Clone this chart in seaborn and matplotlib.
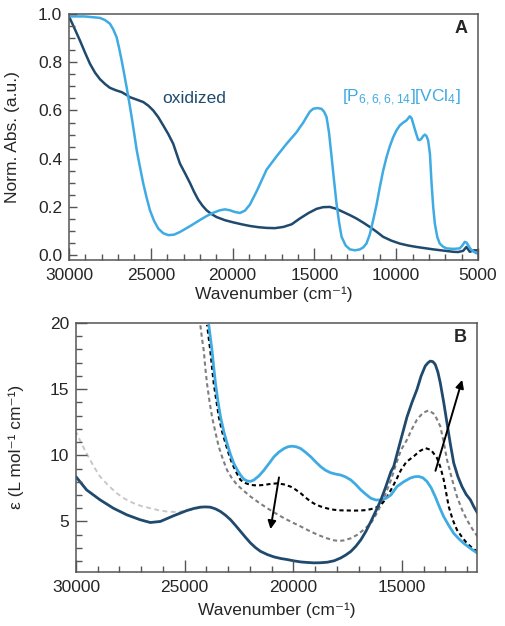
import numpy as np
import pandas as pd
import seaborn as sns
import matplotlib.pyplot as plt
from matplotlib.ticker import MultipleLocator, FormatStrFormatter

# ---- panel A data (normalised absorbance) ----
wn_ox_a = [30000, 29660, 29330, 29020, 28720, 28410, 28110, 27800, 27500, 27140,
           26780, 26520, 26270, 25860, 25460, 25150, 24850, 24540, 24240, 23930,
           23630, 23420, 23220, 22910, 22610, 22350, 22100, 21840, 21590, 21280,
           20980, 20470, 19960, 19450, 18940, 18430, 17920, 17410, 16900, 16390,
           15890, 15380, 14870, 14470, 14060, 13650, 13240, 12830, 12430, 12020,
           11610, 11200, 10800, 10290, 9780, 9270, 8760, 8250, 7740, 7130,
           6520, 6210, 5910, 5710, 5500, 5250, 5000]
abs_ox_a = [0.99, 0.94, 0.89, 0.84, 0.794, 0.757, 0.73, 0.71, 0.694, 0.684,
            0.676, 0.666, 0.655, 0.645, 0.635, 0.62, 0.60, 0.572, 0.538, 0.502,
            0.462, 0.42, 0.38, 0.34, 0.30, 0.262, 0.23, 0.205, 0.186, 0.17,
            0.158, 0.145, 0.136, 0.128, 0.121, 0.116, 0.113, 0.112, 0.117, 0.128,
            0.152, 0.174, 0.192, 0.199, 0.2, 0.192, 0.179, 0.166, 0.152, 0.135,
            0.117, 0.097, 0.076, 0.06, 0.048, 0.04, 0.034, 0.029, 0.024, 0.019,
            0.014, 0.013, 0.018, 0.034, 0.014, 0.02, 0.02]

wn_vcl_a = [30000, 29050, 28110, 27800, 27500, 27300, 27090, 26940, 26780, 26630,
            26480, 26320, 26170, 26010, 25860, 25660, 25460, 25250, 25050, 24800,
            24540, 24240, 23930, 23580, 23220, 22610, 21990, 21590, 21180, 20780,
            20470, 20160, 19860, 19550, 19240, 18940, 18530, 17920, 17310, 16700,
            16090, 15890, 15680, 15480, 15280, 15080, 14820, 14570, 14410, 14260,
            14110, 13950, 13800, 13650, 13490, 13340, 13090, 12830, 12520, 12220,
            12020, 11820, 11620, 11410, 11200, 11000, 10800, 10590, 10390, 10180,
            9980, 9780, 9570, 9370, 9170, 9060, 8960, 8810, 8660, 8560,
            8460, 8350, 8250, 8150, 8050, 7940, 7840, 7740, 7640, 7490,
            7340, 7130, 6930, 6520, 6120, 5960, 5810, 5700, 5600, 5500,
            5400, 5250, 5100, 5000]
abs_vcl_a = [0.99, 0.99, 0.984, 0.975, 0.96, 0.937, 0.904, 0.86, 0.807, 0.753,
             0.697, 0.635, 0.573, 0.503, 0.435, 0.365, 0.297, 0.237, 0.186, 0.142,
             0.11, 0.091, 0.083, 0.085, 0.096, 0.12, 0.146, 0.162, 0.176, 0.186,
             0.19, 0.186, 0.179, 0.175, 0.185, 0.21, 0.265, 0.355, 0.41, 0.462,
             0.51, 0.53, 0.55, 0.573, 0.595, 0.607, 0.61, 0.607, 0.595, 0.573,
             0.51, 0.407, 0.31, 0.214, 0.135, 0.076, 0.04, 0.024, 0.02, 0.024,
             0.032, 0.048, 0.085, 0.145, 0.21, 0.283, 0.35, 0.407, 0.452, 0.49,
             0.518, 0.538, 0.55, 0.559, 0.576, 0.568, 0.545, 0.51, 0.479, 0.477,
             0.483, 0.494, 0.5, 0.494, 0.476, 0.42, 0.297, 0.2, 0.131, 0.075,
             0.048, 0.035, 0.028, 0.026, 0.028, 0.04, 0.055, 0.052, 0.041, 0.03,
             0.021, 0.014, 0.008, 0.007]

# ---- panel B data (molar absorptivity) ----
wn_ox_b = [30000, 29510, 28890, 28280, 27660, 27050, 26580, 26120, 25510, 24890,
           24580, 24280, 24050, 23820, 23580, 23350, 23120, 22890, 22660, 22430,
           22200, 21970, 21740, 21510, 21200, 20890, 20580, 20280, 19970, 19660,
           19350, 19050, 18740, 18430, 18120, 17820, 17590, 17350, 17120, 16890,
           16660, 16430, 16200, 15970, 15740, 15510, 15380, 15050, 14770, 14540,
           14310, 14120, 13930, 13800, 13700, 13580, 13470, 13350, 13240, 13080,
           12930, 12780, 12620, 12430, 12240, 12050, 11850, 11690, 11520]
eps_ox_b = [8.38, 7.38, 6.63, 6.0, 5.5, 5.13, 4.92, 5.0, 5.43, 5.83,
            5.98, 6.08, 6.1, 6.08, 5.95, 5.75, 5.47, 5.13, 4.7, 4.25,
            3.8, 3.37, 3.02, 2.74, 2.5, 2.32, 2.2, 2.12, 2.02, 1.94,
            1.9, 1.87, 1.88, 1.92, 2.03, 2.24, 2.46, 2.74, 3.13, 3.62,
            4.25, 5.0, 5.8, 6.63, 7.65, 8.76, 9.16, 11.2, 12.9, 14.0,
            14.98, 16.0, 16.75, 17.0, 17.12, 17.08, 16.87, 16.3, 15.49, 14.0,
            12.45, 10.9, 9.42, 8.4, 7.64, 7.05, 6.63, 6.1, 5.62]

wn_ox_hi = [30000, 29750, 29510, 29200, 28890, 28500, 28120, 27740, 27350, 26970,
            26580, 26200, 25820, 25510, 25200, 24890, 24580, 24280]
eps_ox_hi = [11.77, 10.9, 10.14, 9.2, 8.38, 7.7, 7.13, 6.7, 6.38, 6.15,
             6.0, 5.85, 5.75, 5.72, 5.75, 5.82, 5.92, 6.05]

wn_vcl_b = [23890, 23810, 23740, 23660, 23580, 23470, 23350, 23200, 23050, 22900,
            22740, 22580, 22430, 22280, 22120, 21970, 21820, 21580, 21350, 21120,
            20890, 20660, 20430, 20240, 20050, 19860, 19660, 19430, 19200, 18970,
            18740, 18510, 18280, 18050, 17820, 17590, 17350, 17120, 16890, 16660,
            16430, 16200, 15970, 15740, 15510, 15230, 14920, 14620, 14420, 14230,
            14040, 13850, 13660, 13470, 13280, 13080, 12850, 12620, 12390, 12160,
            11840, 11520]
eps_vcl_b = [19.86, 18.8, 17.9, 16.6, 15.4, 14.1, 12.9, 11.8, 10.9, 10.1,
             9.39, 8.9, 8.5, 8.2, 8.06, 8.03, 8.13, 8.45, 8.88, 9.38,
             9.89, 10.25, 10.51, 10.65, 10.69, 10.64, 10.51, 10.22, 9.89, 9.5,
             9.14, 8.86, 8.68, 8.58, 8.51, 8.36, 8.13, 7.78, 7.38, 7.05,
             6.75, 6.62, 6.63, 6.75, 7.0, 7.64, 8.0, 8.28, 8.38, 8.4,
             8.3, 8.02, 7.55, 6.88, 6.1, 5.36, 4.7, 4.1, 3.7, 3.35,
             2.95, 2.59]

wn_mix1 = [23970, 23890, 23820, 23740, 23660, 23540, 23430, 23280, 23120, 22970,
           22820, 22620, 22430, 22200, 21970, 21660, 21350, 21040, 20740, 20430,
           20120, 19890, 19660, 19430, 19200, 18970, 18740, 18430, 18120, 17820,
           17510, 17200, 16890, 16660, 16430, 16200, 15970, 15740, 15510, 15280,
           15050, 14800, 14460, 14200, 13930, 13660, 13390, 13230, 13080, 12960,
           12850, 12660, 12470, 12240, 12010, 11770, 11520]
eps_mix1 = [19.86, 18.8, 17.9, 16.6, 15.4, 14.1, 12.9, 11.8, 10.9, 10.1,
            9.39, 8.7, 8.13, 7.9, 7.76, 7.72, 7.76, 7.84, 7.88, 7.8,
            7.63, 7.4, 7.13, 6.8, 6.5, 6.28, 6.13, 5.98, 5.88, 5.84,
            5.83, 5.82, 5.83, 5.86, 5.93, 6.05, 6.25, 6.7, 7.38, 8.1,
            8.88, 9.5, 9.92, 10.3, 10.55, 10.4, 9.8, 9.1, 8.15, 7.1,
            6.12, 5.1, 4.36, 3.82, 3.35, 3.0, 2.71]

wn_mix2 = [24280, 24200, 24120, 24050, 23970, 23850, 23740, 23580, 23430, 23240,
           23050, 22820, 22580, 22270, 21970, 21590, 21200, 20820, 20430, 20050,
           19660, 19280, 18890, 18500, 18120, 17890, 17660, 17350, 17050, 16740,
           16430, 16200, 15970, 15740, 15510, 15280, 15050, 14770, 14540, 14310,
           14040, 13770, 13500, 13240, 13080, 12930, 12700, 12470, 12240, 12010,
           11770, 11520]
eps_mix2 = [19.86, 18.8, 17.9, 16.6, 15.4, 14.0, 12.9, 11.7, 10.64, 9.7,
            8.88, 8.25, 7.76, 7.3, 6.88, 6.43, 6.0, 5.62, 5.25, 4.93,
            4.62, 4.3, 4.0, 3.75, 3.57, 3.53, 3.57, 3.73, 4.0, 4.4,
            4.87, 5.5, 6.25, 7.15, 8.13, 9.3, 10.39, 11.18, 12.0, 12.7,
            13.2, 13.4, 13.1, 12.2, 11.0, 9.67, 8.2, 6.88, 5.9, 5.11,
            4.45, 3.85]

# arrows: (from, to) in data units
arrow_down = [(20660, 8.33), (21050, 4.42)]
arrow_up = [(13460, 8.83), (12230, 15.7)]

navy = '#1f4a6e'
light = '#3fabe3'

sns.set_style("ticks")
plt.rcParams.update({
    'font.family': ['Liberation Sans', 'DejaVu Sans'],
    'axes.edgecolor': '#555555', 'axes.linewidth': 1.1,
    'axes.axisbelow': False,
})

fig = plt.figure(figsize=(5.05, 6.26), dpi=100)
axA = fig.add_axes([0.1366, 0.5847, 0.81, 0.3929])
axB = fig.add_axes([0.1505, 0.0867, 0.794, 0.3973])

# panel A
sns.lineplot(x=wn_ox_a, y=abs_ox_a, ax=axA, color=navy, lw=1.8, estimator=None)
sns.lineplot(x=wn_vcl_a, y=abs_vcl_a, ax=axA, color=light, lw=1.8, estimator=None)
axA.set_xlim(30000, 5000)
axA.set_ylim(-0.02, 1.0)
axA.set_xlabel('Wavenumber (cm\u207b\u00b9)', fontsize=12.5, labelpad=2)
axA.set_ylabel('Norm. Abs. (a.u.)', fontsize=12.5)
axA.yaxis.set_label_coords(-0.12, 0.5)
axA.text(0.228, 0.655, 'oxidized', transform=axA.transAxes, color=navy, fontsize=12.5,
         ha='left', va='center')
axA.text(0.668, 0.66, r'[P$\mathregular{_{6,6,6,14}}$][VCl$\mathregular{_4}$]',
         transform=axA.transAxes, color=light, fontsize=12.5, ha='left', va='center')
axA.text(0.975, 0.94, 'A', transform=axA.transAxes, fontsize=13, fontweight='bold',
         ha='right', va='center')

# panel B
sns.lineplot(x=wn_ox_hi, y=eps_ox_hi, ax=axB, color='#c8c8c8', lw=1.4,
             estimator=None, linestyle=(0, (2.5, 1.8)))
sns.lineplot(x=wn_mix2, y=eps_mix2, ax=axB, color='#7f7f7f', lw=1.5,
             estimator=None, linestyle=(0, (2, 1.5)))
sns.lineplot(x=wn_mix1, y=eps_mix1, ax=axB, color='black', lw=1.5,
             estimator=None, linestyle=(0, (2, 1.5)))
sns.lineplot(x=wn_vcl_b, y=eps_vcl_b, ax=axB, color=light, lw=2.0, estimator=None)
sns.lineplot(x=wn_ox_b, y=eps_ox_b, ax=axB, color=navy, lw=2.0, estimator=None)
for a in (arrow_down, arrow_up):
    axB.annotate('', xy=a[1], xytext=a[0],
                 arrowprops=dict(arrowstyle='-|>', color='black', lw=1.4,
                                 mutation_scale=12, shrinkA=0, shrinkB=0))
axB.set_xlim(30000, 11550)
axB.set_ylim(1.2, 20)
axB.set_xlabel('Wavenumber (cm\u207b\u00b9)', fontsize=12.5, labelpad=5)
axB.set_ylabel('ε (L mol\u207b\u00b9 cm\u207b\u00b9)', fontsize=12.5)
axB.yaxis.set_label_coords(-0.13, 0.5)
axB.text(0.975, 0.94, 'B', transform=axB.transAxes, fontsize=13, fontweight='bold',
         ha='right', va='center')

# ticks last
axA.xaxis.set_major_locator(MultipleLocator(5000))
axA.xaxis.set_minor_locator(MultipleLocator(1000))
axA.yaxis.set_major_locator(MultipleLocator(0.2))
axA.yaxis.set_minor_locator(MultipleLocator(0.05))
axA.yaxis.set_major_formatter(FormatStrFormatter('%.1f'))
axB.xaxis.set_major_locator(MultipleLocator(5000))
axB.xaxis.set_minor_locator(MultipleLocator(1000))
axB.yaxis.set_major_locator(MultipleLocator(5))
axB.yaxis.set_minor_locator(MultipleLocator(1))
for ax, ymaj in ((axA, 6), (axB, 8)):
    ax.tick_params(which='both', direction='in', color='#555555', labelsize=12.5,
                   bottom=True, left=True, top=False, right=False)
    ax.tick_params(axis='x', which='major', length=8.5, width=1.0, pad=6)
    ax.tick_params(axis='y', which='major', length=ymaj, width=1.0, pad=5)
    ax.tick_params(which='minor', length=4, width=1.0)

fig.savefig('out.png', dpi=100)
